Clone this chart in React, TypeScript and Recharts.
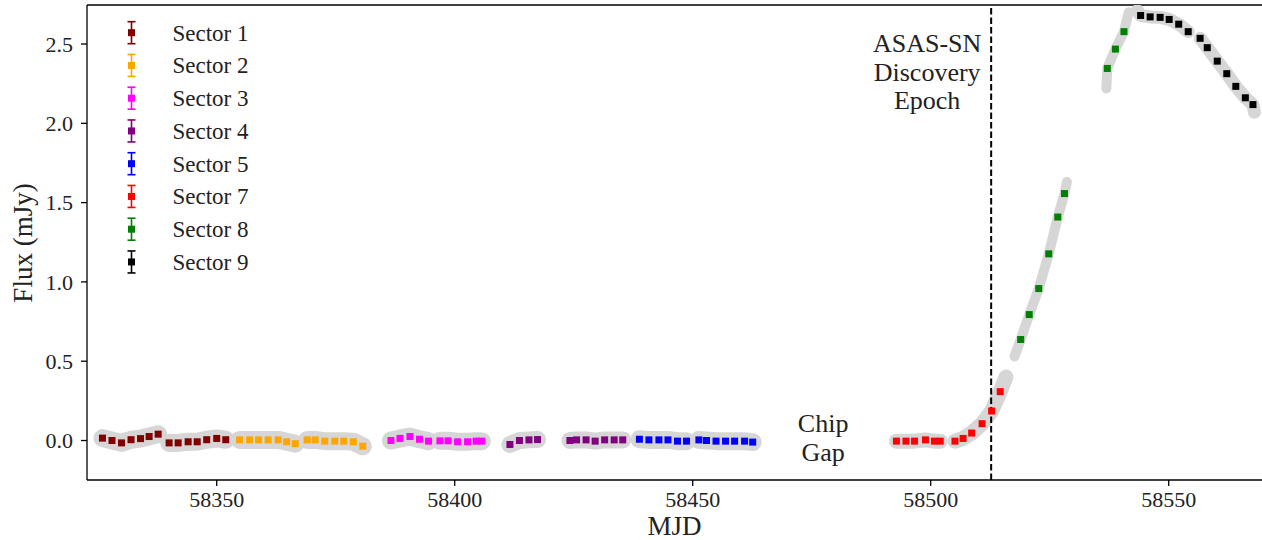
import React from 'react';
import { ComposedChart, XAxis, YAxis, Scatter, Line, ReferenceLine, Legend } from 'recharts';

const FONT = '"Liberation Serif", "DejaVu Serif", serif';

// Binned light-curve points (MJD, flux in mJy)
const s1Mjd = [58326.0, 58328.0, 58330.0, 58332.0, 58334.0, 58335.8, 58337.7, 58340.0, 58341.9, 58344.0, 58345.9, 58347.9, 58350.0, 58351.9];
const s1Flux = [0.015, 0.0, -0.015, 0.005, 0.012, 0.025, 0.04, -0.015, -0.015, -0.008, -0.008, 0.005, 0.013, 0.005];
const s2Mjd = [58354.8, 58356.9, 58358.8, 58360.8, 58362.9, 58364.7, 58366.5, 58369.0, 58370.7, 58372.7, 58374.8, 58376.7, 58378.7, 58380.7];
const s2Flux = [0.004, 0.004, 0.004, 0.004, 0.004, -0.008, -0.02, 0.004, 0.004, -0.004, -0.004, -0.004, -0.008, -0.036];
const s3Mjd = [58386.6, 58388.5, 58390.6, 58392.6, 58394.5, 58396.9, 58398.6, 58400.6, 58402.7, 58404.5, 58405.7];
const s3Flux = [0.0, 0.013, 0.025, 0.008, -0.004, -0.002, -0.002, -0.008, -0.008, -0.004, -0.004];
const s4Mjd = [58411.6, 58413.6, 58415.6, 58417.4, 58424.2, 58425.6, 58427.6, 58429.5, 58431.5, 58433.5, 58435.3];
const s4Flux = [-0.025, 0.0, 0.004, 0.006, 0.0, 0.004, 0.004, -0.004, 0.004, 0.004, 0.004];
const s5Mjd = [58438.8, 58440.8, 58442.9, 58444.8, 58446.8, 58448.7, 58451.3, 58452.9, 58454.9, 58456.9, 58458.8, 58460.9, 58462.6];
const s5Flux = [0.008, 0.004, 0.004, 0.004, -0.004, -0.004, 0.004, 0.0, -0.004, -0.004, -0.004, -0.004, -0.01];
const s7Mjd = [58492.8, 58494.8, 58496.6, 58498.9, 58500.8, 58502.0, 58505.1, 58506.8, 58508.6, 58510.8, 58512.8, 58514.6];
const s7Flux = [-0.004, -0.004, -0.004, 0.004, -0.004, -0.004, -0.004, 0.013, 0.047, 0.106, 0.186, 0.308];
const s8Mjd = [58518.9, 58520.7, 58522.7, 58524.8, 58526.7, 58528.1, 58537.1, 58538.8, 58540.6];
const s8Flux = [0.637, 0.794, 0.958, 1.177, 1.409, 1.557, 2.346, 2.468, 2.578];
const s9Mjd = [58544.1, 58546.1, 58548.2, 58550.1, 58552.1, 58554.1, 58556.6, 58558.1, 58560.2, 58562.2, 58564.1, 58566.1, 58567.7];
const s9Flux = [2.68, 2.671, 2.668, 2.655, 2.625, 2.578, 2.536, 2.477, 2.392, 2.313, 2.233, 2.161, 2.118];

const sectorNames = ['Sector 1', 'Sector 2', 'Sector 3', 'Sector 4', 'Sector 5', 'Sector 7', 'Sector 8', 'Sector 9'];
const sectorColors = ['#800000', '#FFA500', '#FF00FF', '#800080', '#0000FF', '#FF0000', '#008000', '#000000'];
const sectorMjd = [s1Mjd, s2Mjd, s3Mjd, s4Mjd, s5Mjd, s7Mjd, s8Mjd, s9Mjd];
const sectorFlux = [s1Flux, s2Flux, s3Flux, s4Flux, s5Flux, s7Flux, s8Flux, s9Flux];
// index of the first bin of each sector's second orbit
const orbitBreak = [7, 7, 5, 4, 6, 6, 6, 6];
// gray raw-cloud thickness (px) per sector
const sectorBandWidth = [18, 18, 18, 17, 18, 15, 10, 13];

// Extents of the gray raw-data cloud beyond the binned points: [sector index, orbit, mjd, flux]
const grayStarts: [number, number, number, number][] = [
  [6, 0, 58517.6, 0.53],
  [6, 1, 58536.9, 2.22],
  [7, 0, 58543.4, 2.71],
];
const grayEnds: [number, number, number, number][] = [
  [5, 1, 58515.8, 0.4],
  [6, 0, 58528.6, 1.63],
  [6, 1, 58541.6, 2.7],
  [7, 1, 58568.0, 2.07],
];

const xTicks = [58350, 58400, 58450, 58500, 58550];
const yTicks = [0, 0.5, 1.0, 1.5, 2.0, 2.5];
const xDomain: [number, number] = [58322.75, 58569.6];
const yDomain: [number, number] = [-0.249, 2.746];
const discoveryMjd = 58512.7;
const chipGapMjd = 58477.4;

type Pt = { x: number; y: number };

const sectors = sectorNames.map((name, i) => ({
  name,
  color: sectorColors[i],
  points: sectorMjd[i].map((m, j) => ({ x: m, y: sectorFlux[i][j] })) as Pt[],
}));

const bands: { key: string; width: number; pts: Pt[] }[] = [];
sectors.forEach((s, i) => {
  const orbits: Pt[][] = [s.points.slice(0, orbitBreak[i]), s.points.slice(orbitBreak[i])];
  orbits.forEach((o, k) => {
    const pts = [...o];
    grayStarts.forEach(([si, ok, x, y]) => {
      if (si === i && ok === k) pts.unshift({ x, y });
    });
    grayEnds.forEach(([si, ok, x, y]) => {
      if (si === i && ok === k) pts.push({ x, y });
    });
    bands.push({ key: `${s.name}-${k}`, width: sectorBandWidth[i], pts });
  });
});

const makeSquare = (color: string) => (props: any) => {
  const { cx, cy } = props;
  if (cx == null || cy == null) return <g />;
  return <rect x={cx - 3.5} y={cy - 3.5} width={7} height={7} fill={color} />;
};

const LegendBox = () => (
  <svg width={320} height={290} style={{ display: 'block' }}>
    {sectors.map((s, i) => {
      const cy = 32.7 + i * 32.75;
      const cx = 131.5;
      return (
        <g key={s.name}>
          <line x1={cx} x2={cx} y1={cy - 11} y2={cy + 11} stroke={s.color} strokeWidth={1.6} />
          <line x1={cx - 4} x2={cx + 4} y1={cy - 11} y2={cy - 11} stroke={s.color} strokeWidth={1.6} />
          <line x1={cx - 4} x2={cx + 4} y1={cy + 11} y2={cy + 11} stroke={s.color} strokeWidth={1.6} />
          <rect x={cx - 3.5} y={cy - 3.5} width={7} height={7} fill={s.color} />
          <text x={172.5} y={cy + 7.8} fontFamily={FONT} fontSize={23} fill="#222">
            {s.name}
          </text>
        </g>
      );
    })}
  </svg>
);

export default function App() {
  return (
    <div style={{ position: 'absolute', left: 0, top: 0 }}>
      <ComposedChart width={1262} height={540} margin={{ top: 5, right: 0, bottom: 0, left: 0 }}>
        <XAxis
          type="number"
          dataKey="x"
          domain={xDomain}
          ticks={xTicks}
          allowDataOverflow
          height={60}
          tickSize={6}
          tickMargin={5}
          stroke="#000"
          strokeWidth={1.3}
          tick={{ fill: '#222', fontSize: 22, fontFamily: FONT }}
          label={{
            content: (p: any) => {
              const vb = p.viewBox || { x: 87, width: 1175 };
              return (
                <text x={vb.x + vb.width / 2} y={535} textAnchor="middle" fontFamily={FONT} fontSize={27} fill="#222">
                  MJD
                </text>
              );
            },
          }}
        />
        <YAxis
          type="number"
          dataKey="y"
          domain={yDomain}
          ticks={yTicks}
          allowDataOverflow
          width={87}
          tickSize={6}
          tickMargin={8}
          stroke="#000"
          strokeWidth={1.3}
          tickFormatter={(v: number) => v.toFixed(1)}
          tick={{ fill: '#222', fontSize: 22, fontFamily: FONT }}
          label={{
            content: () => (
              <text
                x={31.5}
                y={243}
                transform="rotate(-90, 31.5, 243)"
                textAnchor="middle"
                fontFamily={FONT}
                fontSize={27}
                fill="#222"
              >
                Flux (mJy)
              </text>
            ),
          }}
        />
        <ReferenceLine y={yDomain[1]} stroke="#000" strokeWidth={1.3} />
        {bands.map((b) => (
          <Line
            key={b.key}
            data={b.pts}
            dataKey="y"
            type="linear"
            stroke="#d6d6d6"
            strokeWidth={b.width}
            strokeLinecap="round"
            strokeLinejoin="round"
            dot={false}
            activeDot={false}
            legendType="none"
            isAnimationActive={false}
          />
        ))}
        <ReferenceLine
          x={discoveryMjd}
          stroke="#000"
          strokeWidth={2}
          strokeDasharray="6.5 3"
          label={{
            content: (p: any) => {
              const x = (p.viewBox?.x ?? 991) - 64;
              return (
                <g fontFamily={FONT} fontSize={26} fill="#222" textAnchor="middle">
                  <text x={x} y={51.5}>ASAS-SN</text>
                  <text x={x} y={81}>Discovery</text>
                  <text x={x} y={109}>Epoch</text>
                </g>
              );
            },
          }}
        />
        <ReferenceLine
          x={chipGapMjd}
          stroke="none"
          label={{
            content: (p: any) => {
              const x = p.viewBox?.x ?? 823;
              return (
                <g fontFamily={FONT} fontSize={26} fill="#222" textAnchor="middle">
                  <text x={x} y={431.5}>Chip</text>
                  <text x={x} y={461}>Gap</text>
                </g>
              );
            },
          }}
        />
        {sectors.map((s) => (
          <Scatter
            key={s.name}
            name={s.name}
            data={s.points}
            dataKey="y"
            fill={s.color}
            shape={makeSquare(s.color)}
            isAnimationActive={false}
          />
        ))}
        <Legend
          layout="vertical"
          align="center"
          verticalAlign="middle"
          wrapperStyle={{ left: 0, top: 0, width: 320, height: 290 }}
          content={() => <LegendBox />}
        />
      </ComposedChart>
    </div>
  );
}
